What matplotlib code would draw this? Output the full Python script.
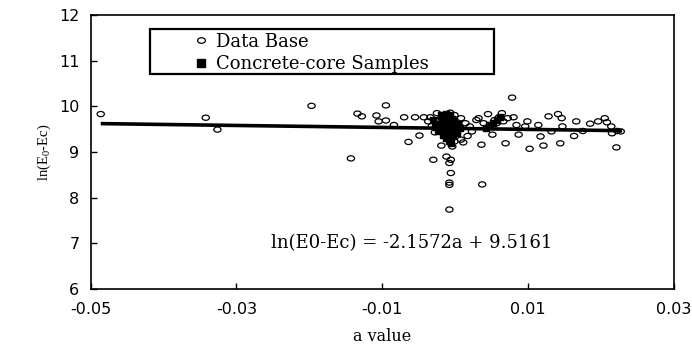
import matplotlib
matplotlib.use("Agg")
import matplotlib.pyplot as plt
from matplotlib.markers import MarkerStyle
from matplotlib.transforms import Affine2D
from matplotlib.patches import Rectangle
from matplotlib.lines import Line2D

# Data Base points (a value, ln(E0-Ec))
db_a = [-0.0486, -0.0342, -0.0326, -0.0197, -0.0143, -0.0134, -0.0128, -0.0108,
        -0.0095, -0.0105, -0.0095, -0.0084, -0.0070, -0.0055, -0.0064, -0.0049,
        -0.0034, -0.0028, -0.0030, -0.0019, -0.0012, -0.0008, -0.0006, -0.0006,
        -0.0008, -0.0008, -0.0008, -0.0006, -0.0004, -0.0007, -0.0001, -0.0019,
        0.0008, 0.0017, 0.0020, 0.0029, 0.0036, 0.0037, 0.0045, 0.0051,
        0.0057, 0.0064, 0.0069, 0.0072, 0.0078, 0.0080, 0.0084, 0.0087,
        0.0096, 0.0099, 0.0102, 0.0114, 0.0117, 0.0121, 0.0128, 0.0132,
        0.0141, 0.0144, 0.0146, 0.0147, 0.0163, 0.0166, 0.0175, 0.0185,
        0.0196, 0.0205, 0.0208, 0.0214, 0.0215, 0.0221, 0.0227, 0.0222,
        -0.0043, -0.0037, -0.0032, -0.0025, -0.0022, -0.0016, -0.0013, -0.0010,
        -0.0004, 0.0002, 0.0005, 0.0008, 0.0011, -0.0001, -0.0014, 0.0014,
        0.0023, 0.0032, 0.0039, 0.0054, 0.0060, 0.0066]
db_y = [9.83, 9.75, 9.49, 10.01, 8.86, 9.84, 9.78, 9.80,
        10.02, 9.67, 9.69, 9.59, 9.76, 9.76, 9.22, 9.36,
        9.76, 9.43, 8.83, 9.14, 8.90, 8.76, 8.83, 8.54,
        8.33, 8.28, 7.74, 9.19, 9.12, 9.86, 9.81, 9.74,
        9.74, 9.35, 9.56, 9.70, 9.16, 8.29, 9.83, 9.38,
        9.63, 9.85, 9.19, 9.74, 10.19, 9.76, 9.59, 9.38,
        9.56, 9.67, 9.07, 9.59, 9.34, 9.14, 9.78, 9.45,
        9.83, 9.19, 9.74, 9.56, 9.35, 9.67, 9.46, 9.62,
        9.67, 9.74, 9.65, 9.56, 9.41, 9.10, 9.45, 9.46,
        9.76, 9.67, 9.57, 9.85, 9.70, 9.81, 9.59, 9.45,
        9.67, 9.59, 9.49, 9.27, 9.21, 9.23, 9.34, 9.63,
        9.45, 9.74, 9.63, 9.70, 9.76, 9.67]

# Concrete-core samples (dense black cluster near a = 0)
core_a = [-0.0030, -0.0026, -0.0022, -0.0018, -0.0015, -0.0012, -0.0010, -0.0008,
          -0.0006, -0.0004, -0.0002, 0.0000, -0.0016, -0.0011, -0.0007, -0.0003,
          -0.0013, -0.0009, -0.0005, -0.0001, -0.0008, -0.0006, 0.0002, 0.0004,
          -0.0024, -0.0020, -0.0028, 0.0006, -0.0017, -0.0012,
          0.0042, 0.0047, 0.0052, 0.0057, 0.0062]
core_y = [9.70, 9.55, 9.62, 9.70, 9.55, 9.78, 9.48, 9.66,
          9.40, 9.72, 9.58, 9.50, 9.45, 9.62, 9.80, 9.35,
          9.30, 9.55, 9.60, 9.68, 9.25, 9.20, 9.42, 9.62,
          9.45, 9.80, 9.62, 9.52, 9.38, 9.84,
          9.52, 9.58, 9.64, 9.70, 9.76]

# fitted line: ln(E0-Ec) = -2.1572a + 9.5161
fit_slope = -2.1572
fit_intercept = 9.5161
fit_range = [-0.0486, 0.0229]

x_ticks = [-0.05, -0.03, -0.01, 0.01, 0.03]
x_labels = ['-0.05', '-0.03', '-0.01', '0.01', '0.03']
y_ticks = [6, 7, 8, 9, 10, 11, 12]

plt.rcParams['mathtext.fontset'] = 'custom'
plt.rcParams['mathtext.rm'] = 'Liberation Serif'
serif = 'DejaVu Serif'

fig = plt.figure(figsize=(6.92, 3.47), dpi=100)
ax = fig.add_axes([0.1308, 0.167, 0.8432, 0.790])

fit_y = [fit_slope * a + fit_intercept for a in fit_range]
ax.plot(fit_range, fit_y, color='black', lw=2.6, solid_capstyle='butt', zorder=2)

ell = MarkerStyle('o', transform=Affine2D().scale(1.4, 1.0))
ax.scatter(db_a, db_y, marker=ell, s=14, facecolors='none', edgecolors='black',
           linewidths=0.9, zorder=3)
ax.scatter(core_a, core_y, marker='s', s=16, color='black', zorder=4)

ax.set_xlim(-0.05, 0.03)
ax.set_ylim(6, 12)
ax.set_xticks(x_ticks)
ax.set_xticklabels(x_labels)
ax.set_yticks(y_ticks)
ax.tick_params(direction='in', length=4, width=1, labelsize=11.5)
ax.tick_params(axis='x', pad=9)
ax.tick_params(axis='y', pad=8)
for sp in ax.spines.values():
    sp.set_linewidth(1.2)

ax.set_xlabel('a value', fontfamily=serif, fontsize=11.5, labelpad=8)
ax.set_ylabel(r'ln(E$_0$-Ec)', fontfamily='Liberation Serif', fontsize=10.5, labelpad=4)

ax.text(-0.0253, 7.0, 'ln(E0-Ec) = -2.1572a + 9.5161', fontfamily=serif,
        fontsize=13, ha='left', va='center')

# legend box
ax.add_patch(Rectangle((0.102, 0.785), 0.5895, 0.164, transform=ax.transAxes,
                       fill=False, edgecolor='black', lw=1.6, zorder=5))
handles = [Line2D([], [], ls='none', marker=ell, ms=4, mfc='none', mec='black', mew=0.9),
           Line2D([], [], ls='none', marker='s', ms=5.5, color='black')]
ax.legend(handles, ['Data Base', 'Concrete-core Samples'], loc='center left',
          bbox_to_anchor=(0.165, 0.861), frameon=False, borderpad=0,
          handlelength=0.6, handletextpad=0.5, labelspacing=0.25,
          prop={'family': serif, 'size': 13})

fig.savefig('out.png', dpi=100)
